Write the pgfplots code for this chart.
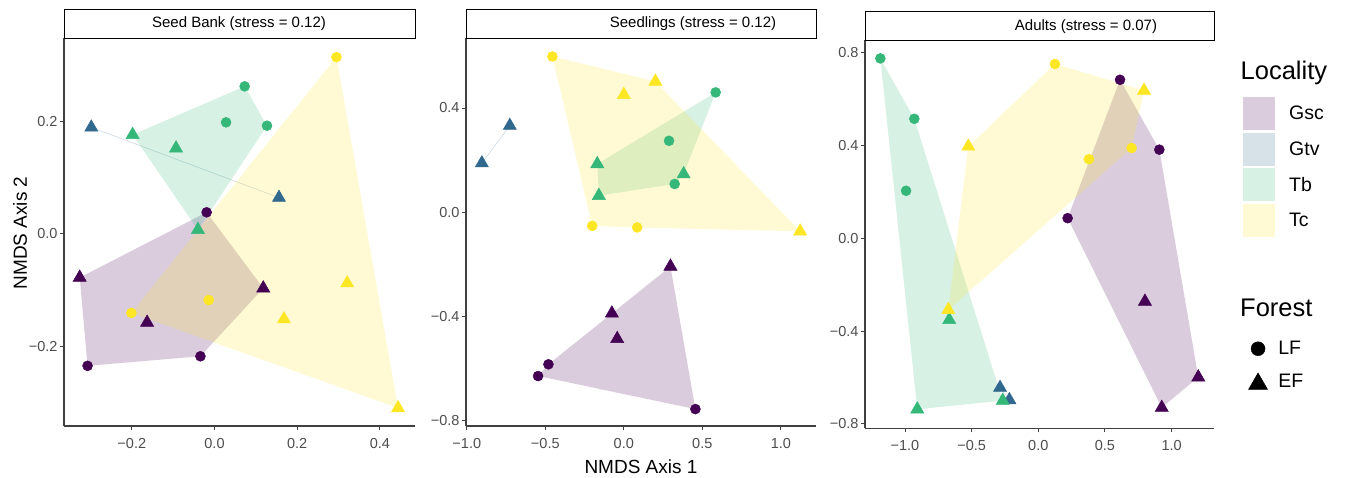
\documentclass[border=0pt]{standalone}
\usepackage{pgfplots}
\pgfplotsset{compat=1.18}
\usepackage{fontspec}
\setmainfont{Liberation Sans}

% viridis palette for the four localities
\definecolor{gsc}{HTML}{440154}
\definecolor{gtv}{HTML}{31688E}
\definecolor{tb}{HTML}{35B779}
\definecolor{tc}{HTML}{FDE725}
\definecolor{ticktext}{HTML}{4D4D4D}
\definecolor{axisgray}{HTML}{404040}

\pgfplotsset{
  nmds/.style={
    scale only axis, anchor=south west,
    axis lines=left,
    axis line style={-, line width=1.1pt, axisgray},
    tick align=outside, major tick length=4pt,
    tick style={line width=1pt, axisgray},
    ticklabel style={font=\fontsize{14.5}{14.5}\selectfont, text=ticktext},
    xticklabel shift=5pt,
    yticklabel shift=-1pt,
    clip=false,
  },
  hull/.style={draw=none, fill=#1, fill opacity=0.2, forget plot},
  seg/.style={draw=#1, draw opacity=0.25, line width=0.6pt, no marks, forget plot},
  lf/.style={only marks, mark=*, mark size=5pt, color=#1, line width=0.5pt, forget plot},
  ef/.style={only marks, mark=triangle*, mark size=7.6pt, color=#1, line width=0.5pt, forget plot},
  keybox/.style={legend image code/.code={\path[draw=none, fill=#1, fill opacity=0.2] (0pt,-16.4pt) rectangle (32.7pt,16.4pt);}},
}

\newcommand{\striptext}{\fontsize{15}{15}\selectfont}

\begin{document}
\begin{tikzpicture}[x=1pt, y=1pt]
\useasboundingbox (0,0) rectangle (1345,477);

% ---------------- Seed bank ----------------
\begin{axis}[nmds, name=p1, at={(64pt,51pt)}, width=351pt, height=388pt,
  xmin=-0.364, xmax=0.485, ymin=-0.342, ymax=0.348,
  xtick={-0.2,0,0.2,0.4}, xticklabels={−0.2,0.0,0.2,0.4},
  ytick={-0.2,0,0.2}, yticklabels={−0.2,0.0,0.2}]
  % convex hulls per locality
  \addplot[hull=gsc] coordinates {(-0.019,0.038) (0.118,-0.097) (-0.034,-0.218) (-0.307,-0.235) (-0.326,-0.078)} -- cycle;
  \addplot[seg=gtv] coordinates {(-0.298,0.189) (0.156,0.064)};
  \addplot[hull=tb] coordinates {(0.073,0.262) (0.127,0.192) (-0.040,0.007) (-0.198,0.176)} -- cycle;
  \addplot[hull=tc] coordinates {(0.295,0.314) (0.444,-0.310) (-0.201,-0.141)} -- cycle;
  % samples
  \addplot[lf=gsc] coordinates {(-0.019,0.038) (-0.034,-0.218) (-0.307,-0.235)};
  \addplot[ef=gsc] coordinates {(-0.326,-0.078) (0.118,-0.097) (-0.163,-0.158)};
  \addplot[ef=gtv] coordinates {(-0.298,0.189) (0.156,0.064)};
  \addplot[lf=tb] coordinates {(0.073,0.262) (0.028,0.198) (0.127,0.192)};
  \addplot[ef=tb] coordinates {(-0.198,0.176) (-0.093,0.152) (-0.040,0.007)};
  \addplot[lf=tc] coordinates {(0.295,0.314) (-0.201,-0.141) (-0.014,-0.118)};
  \addplot[ef=tc] coordinates {(0.321,-0.088) (0.168,-0.152) (0.444,-0.310)};
\end{axis}

% ---------------- Seedlings ----------------
\begin{axis}[nmds, name=p2, at={(466pt,51pt)}, width=350pt, height=388pt,
  xmin=-1.005, xmax=1.224, ymin=-0.822, ymax=0.669,
  xtick={-1,-0.5,0,0.5,1}, xticklabels={−1.0,−0.5,0.0,0.5,1.0},
  ytick={-0.8,-0.4,0,0.4}, yticklabels={−0.8,−0.4,0.0,0.4}]
  \addplot[hull=gsc] coordinates {(0.297,-0.209) (0.456,-0.757) (-0.546,-0.630) (-0.480,-0.585)} -- cycle;
  \addplot[seg=gtv] coordinates {(-0.904,0.188) (-0.726,0.332)};
  \addplot[hull=tb] coordinates {(0.585,0.460) (0.381,0.146) (0.324,0.108) (-0.159,0.063) (-0.169,0.185)} -- cycle;
  \addplot[hull=tc] coordinates {(-0.455,0.598) (0.201,0.502) (1.123,-0.074) (0.085,-0.059) (-0.201,-0.053)} -- cycle;
  \addplot[lf=gsc] coordinates {(-0.480,-0.585) (-0.546,-0.630) (0.456,-0.757)};
  \addplot[ef=gsc] coordinates {(0.297,-0.209) (-0.076,-0.389) (-0.042,-0.487)};
  \addplot[ef=gtv] coordinates {(-0.904,0.188) (-0.726,0.332)};
  \addplot[lf=tb] coordinates {(0.585,0.460) (0.288,0.274) (0.324,0.108)};
  \addplot[ef=tb] coordinates {(-0.169,0.185) (0.381,0.146) (-0.159,0.063)};
  \addplot[lf=tc] coordinates {(-0.455,0.598) (-0.201,-0.053) (0.085,-0.059)};
  \addplot[ef=tc] coordinates {(0.201,0.502) (0.000,0.451) (1.123,-0.074)};
\end{axis}

% ---------------- Adults ----------------
\begin{axis}[nmds, name=p3, at={(865pt,48.7pt)}, width=349pt, height=388pt,
  xmin=-1.30, xmax=1.318, ymin=-0.819, ymax=0.852,
  xtick={-1,-0.5,0,0.5,1}, xticklabels={−1.0,−0.5,0.0,0.5,1.0},
  ytick={-0.8,-0.4,0,0.4,0.8}, yticklabels={−0.8,−0.4,0.0,0.4,0.8}]
  \addplot[hull=gsc] coordinates {(0.613,0.682) (0.908,0.381) (1.200,-0.599) (0.926,-0.730) (0.220,0.086)} -- cycle;
  \addplot[seg=gtv] coordinates {(-0.287,-0.644) (-0.217,-0.697)};
  \addplot[hull=tb] coordinates {(-1.185,0.774) (-0.930,0.514) (-0.267,-0.700) (-0.908,-0.737)} -- cycle;
  \addplot[hull=tc] coordinates {(0.125,0.750) (0.793,0.636) (0.700,0.388) (-0.675,-0.309) (-0.525,0.395)} -- cycle;
  \addplot[lf=gsc] coordinates {(0.613,0.682) (0.908,0.381) (0.220,0.086)};
  \addplot[ef=gsc] coordinates {(0.800,-0.273) (1.200,-0.599) (0.926,-0.730)};
  \addplot[ef=gtv] coordinates {(-0.287,-0.644) (-0.217,-0.697)};
  \addplot[lf=tb] coordinates {(-1.185,0.774) (-0.930,0.514) (-0.992,0.204)};
  \addplot[ef=tb] coordinates {(-0.668,-0.352) (-0.908,-0.737) (-0.267,-0.700)};
  \addplot[lf=tc] coordinates {(0.125,0.750) (0.380,0.340) (0.700,0.388)};
  \addplot[ef=tc] coordinates {(0.793,0.636) (-0.525,0.395) (-0.675,-0.309)};
\end{axis}

% facet strips
\draw[black, line width=0.8pt, fill=white] (p1.north west) rectangle ([yshift=29pt]p1.north east);
\draw[black, line width=0.8pt, fill=white] (p2.north west) rectangle ([yshift=29pt]p2.north east);
\draw[black, line width=0.8pt, fill=white] (p3.north west) rectangle ([yshift=29pt]p3.north east);
\node[font=\striptext] at (239,453.2) {Seed Bank (stress = 0.12)};
\node[font=\striptext] at (693,453.2) {Seedlings (stress = 0.12)};
\node[font=\striptext] at (1086,450.8) {Adults (stress = 0.07)};

% axis titles
\node[rotate=90, font=\fontsize{19}{19}\selectfont] at (20,244) {NMDS Axis 2};
\node[font=\fontsize{19}{19}\selectfont] at (641,10.3) {NMDS Axis 1};

% legend titles
\node[anchor=base west, inner sep=0pt, font=\fontsize{25.5}{25.5}\selectfont] at (1240.5,397) {Locality};
\node[anchor=base west, inner sep=0pt, font=\fontsize{25.5}{25.5}\selectfont] at (1240,160.3) {Forest};

% Locality key
\begin{axis}[at={(0pt,0pt)}, anchor=south west, scale only axis, width=1345pt, height=477pt,
  xmin=0, xmax=1345, ymin=0, ymax=477, hide axis,
  legend cell align=left,
  legend style={at={(axis cs:1242.3,379.7)}, anchor=north west, draw=none, fill=none,
    inner sep=0pt, row sep=2.7pt, column sep=14pt,
    font=\fontsize{19.5}{19.5}\selectfont, nodes={inner sep=0pt}}]
  \addlegendimage{keybox=gsc}\addlegendentry{Gsc}
  \addlegendimage{keybox=gtv}\addlegendentry{Gtv}
  \addlegendimage{keybox=tb}\addlegendentry{Tb}
  \addlegendimage{keybox=tc}\addlegendentry{Tc}
\end{axis}

% Forest key
\begin{axis}[at={(0pt,0pt)}, anchor=south west, scale only axis, width=1345pt, height=477pt,
  xmin=0, xmax=1345, ymin=0, ymax=477, hide axis,
  legend cell align=left,
  legend style={at={(axis cs:1248.3,135.9)}, anchor=north west, draw=none, fill=none,
    inner sep=0pt, row sep=16.7pt, column sep=10.8pt,
    font=\fontsize{19.5}{19.5}\selectfont, nodes={inner sep=0pt}}]
  \addlegendimage{legend image code/.code={\path[black] plot[mark=*, mark size=7pt] coordinates {(0pt,0pt)};}}
  \addlegendentry{LF}
  \addlegendimage{legend image code/.code={\path[black] plot[mark=triangle*, mark size=11pt] coordinates {(0pt,-2.75pt)};}}
  \addlegendentry{EF}
\end{axis}
\end{tikzpicture}
\end{document}
